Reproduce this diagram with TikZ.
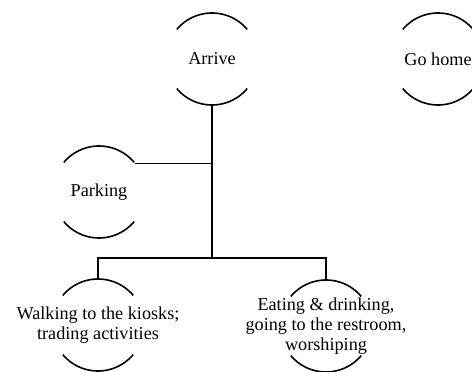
\documentclass[tikz,border=0pt]{standalone}
\usepackage{fontspec}
\setmainfont{Liberation Serif}
\usetikzlibrary{calc}
\newcommand\RR{46}
\newcommand\ringarcs[1]{%
  \draw[ringline] ($(#1.center)+(40:\RR)$) arc[start angle=40,end angle=140,radius=\RR];
  \draw[ringline] ($(#1.center)+(220:\RR)$) arc[start angle=220,end angle=320,radius=\RR];
  \coordinate (#1-n) at ($(#1.center)+(0,\RR)$);
  \coordinate (#1-s) at ($(#1.center)+(0,-\RR)$);
  \coordinate (#1-ne) at ($(#1.center)+(38:\RR)$);
}
\tikzset{
  lbl/.style={align=center, inner sep=0pt, font=\fontsize{18.2}{19.8}\selectfont},
  ringline/.style={line width=1.6pt},
  conn/.style={line width=1.6pt}
}
\begin{document}
\begin{tikzpicture}[x=1pt,y=1pt]
\useasboundingbox (0,0) rectangle (472,372);
\fill[white] (0,0) rectangle (472,372);
\node[lbl] (arrive) at (212,313) {Arrive};
\node[lbl] (home) at (438,313) {Go home};
\node[lbl] (park) at (99,180) {Parking};
\node[lbl] (walk) at (98,47) {Walking to the kiosks;\\trading activities};
\node[lbl] (eat) at (326,46) {Eating \& drinking,\\going to the restroom,\\worshiping};
\ringarcs{arrive}
\ringarcs{home}
\ringarcs{park}
\ringarcs{walk}
\ringarcs{eat}
\coordinate (jct) at (arrive.center |- 0,114);
\draw[conn] (arrive-s) -- (jct);
\draw[conn] (park-ne) -- (park-ne -| jct);
\draw[conn] (walk-n) |- (jct) -| (eat-n);
\end{tikzpicture}
\end{document}
